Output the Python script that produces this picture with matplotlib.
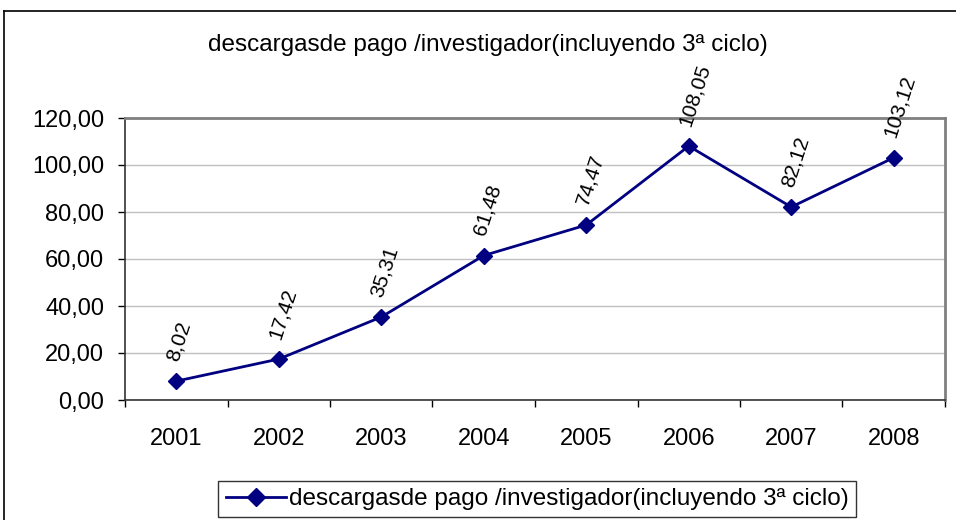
import numpy as np
import matplotlib.pyplot as plt
from matplotlib.lines import Line2D

years = ['2001', '2002', '2003', '2004', '2005', '2006', '2007', '2008']
values = [8.02, 17.42, 35.31, 61.48, 74.47, 108.05, 82.12, 103.12]
series_name = 'descargasde pago /investigador(incluyendo 3ª ciclo)'
yticks = [0, 20, 40, 60, 80, 100, 120]

plt.rcParams['font.family'] = ['Liberation Sans', 'DejaVu Sans']
navy = '#000080'

def fmt(v):
    return '{:.2f}'.format(v).replace('.', ',')

fig = plt.figure(figsize=(9.56, 5.2), dpi=100)
ax = fig.add_axes([125 / 956, 1 - 400 / 520, 820 / 956, 282 / 520])

x = np.arange(len(years))
ax.plot(x, values, color=navy, lw=2, marker='D', ms=8, mfc=navy, mec=navy,
        label=series_name)

for xi, v in zip(x, values):
    ax.annotate(fmt(v), (xi, v), xytext=(-3, 15), textcoords='offset points',
                rotation=72, rotation_mode='anchor', ha='left', va='center',
                fontsize=15, color='black')

ax.set_xlim(-0.5, len(years) - 0.5)
ax.set_ylim(0, 120)
ax.set_yticks(yticks)
ax.set_yticklabels([fmt(t) for t in yticks], fontsize=17)
ax.set_xticks(x)
ax.set_xticklabels(years, fontsize=17)
ax.set_xticks(np.arange(-0.5, len(years)), minor=True)
ax.tick_params(axis='x', which='major', length=0, pad=20)
ax.tick_params(axis='x', which='minor', length=5, width=1, direction='out')
ax.tick_params(axis='y', length=5, width=1, direction='out', pad=10)
ax.yaxis.grid(True, color='#c0c0c0', lw=1)
ax.set_axisbelow(True)
for s in ['left', 'bottom']:
    ax.spines[s].set_color('#333333')
    ax.spines[s].set_linewidth(1.2)
for s in ['top', 'right']:
    ax.spines[s].set_color('#808080')
    ax.spines[s].set_linewidth(2)

fig.text(488 / 956, 1 - 45 / 520, series_name, ha='center', va='center', fontsize=17.5)

# outer chart frame
fig.add_artist(Line2D([4 / 956, 4 / 956], [0, 1 - 11 / 520], transform=fig.transFigure,
                      color='black', lw=1.2))
fig.add_artist(Line2D([4 / 956, 1], [1 - 11 / 520, 1 - 11 / 520], transform=fig.transFigure,
                      color='black', lw=1.2))

handle = Line2D([], [], color=navy, lw=2, marker='D', ms=9, mfc=navy, mec=navy)
leg = fig.legend([handle], [series_name], loc='center', bbox_to_anchor=(537 / 956, 1 - 499 / 520),
                 fontsize=17.5, frameon=True, fancybox=False, handlelength=2.5,
                 handletextpad=0.1, borderpad=0.3, borderaxespad=0)
leg.get_frame().set_edgecolor('black')
leg.get_frame().set_linewidth(1)

fig.savefig('out.png', dpi=100)
